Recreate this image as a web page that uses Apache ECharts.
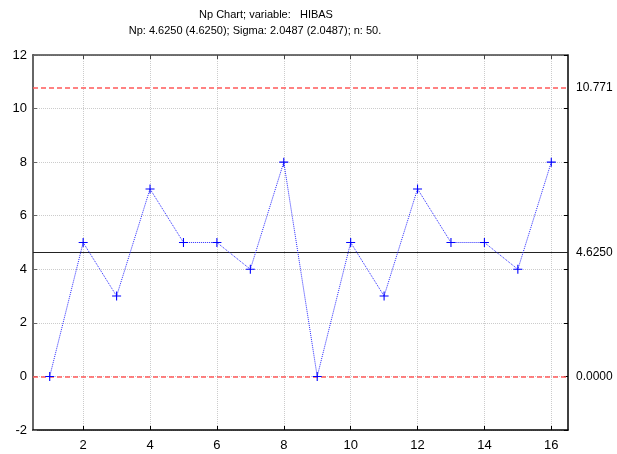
<!DOCTYPE html>
<html>
<head>
<meta charset="utf-8">
<script src="https://cdn.jsdelivr.net/npm/echarts@6/dist/echarts.min.js"></script>
<style>html,body{margin:0;padding:0;background:#fff}#c{width:617px;height:454px}</style>
</head>
<body>
<div id="c"></div>
<script>
const samples = [1,2,3,4,5,6,7,8,9,10,11,12,13,14,15,16];
const values = [0,5,3,7,5,5,4,8,0,5,3,7,5,5,4,8];
const xTickValues = [2,4,6,8,10,12,14,16];
const ucl = 10.771;
const centerLine = 4.625;
const lcl = 0;
const ucLabel = '10.771';
const clLabel = '4.6250';
const lcLabel = '0.0000';
const titleText = 'Np Chart; variable:   HIBAS';
const subtitleText = 'Np: 4.6250 (4.6250); Sigma: 2.0487 (2.0487); n: 50.';

const chart = echarts.init(document.getElementById('c'), null, {renderer:'canvas'});
const font = 'Arial, "Liberation Sans", sans-serif';
const gridLine = {show:true, lineStyle:{color:'#cccccc', type:'dotted', width:1}};
const plus = 'path://M4.4,0h1.2v10h-1.2z M0,4.4h10v1.2h-10z';

const option = {
  animation:false,
  backgroundColor:'#fff',
  title:[
    {text:titleText, left:261, top:4, textAlign:'center', textStyle:{fontFamily:font, fontSize:11, fontWeight:'normal', color:'#000'}},
    {text:subtitleText, left:250, top:20, textAlign:'center', textStyle:{fontFamily:font, fontSize:11, fontWeight:'normal', color:'#000'}}
  ],
  grid:{left:33, right:49, top:55, bottom:24, containLabel:false},
  xAxis:[
    {type:'value', min:0.5, max:16.5, position:'bottom',
     axisLine:{show:true, onZero:false, lineStyle:{color:'#000', width:1.5}},
     axisTick:{show:true, inside:true, length:4, customValues:xTickValues, lineStyle:{color:'#000'}},
     axisLabel:{customValues:xTickValues, fontFamily:font, fontSize:13, color:'#000', margin:9},
     splitLine:gridLine},
    {type:'value', min:0.5, max:16.5, position:'top',
     axisLine:{show:true, onZero:false, lineStyle:{color:'#444', width:1.5}},
     axisTick:{show:true, inside:true, length:4, customValues:xTickValues, lineStyle:{color:'#444'}},
     axisLabel:{show:false},
     splitLine:{show:false}}
  ],
  yAxis:[
    {type:'value', min:-2, max:12, interval:2, position:'left',
     axisLine:{show:true, onZero:false, lineStyle:{color:'#666', width:2}},
     axisTick:{show:true, inside:true, length:4, lineStyle:{color:'#666'}},
     axisLabel:{fontFamily:font, fontSize:13, color:'#000', margin:6},
     splitLine:gridLine},
    {type:'value', min:-2, max:12, interval:2, position:'right',
     axisLine:{show:true, onZero:false, lineStyle:{color:'#000', width:1.5}},
     axisTick:{show:true, inside:true, length:4, lineStyle:{color:'#000'}},
     axisLabel:{show:false},
     splitLine:{show:false}}
  ],
  series:[{
    type:'line',
    xAxisIndex:0, yAxisIndex:0,
    data: samples.map((s,i)=>[s, values[i]]),
    symbol:plus, symbolSize:9,
    itemStyle:{color:'#0000ff'},
    lineStyle:{color:'#2a2aff', type:'dotted', width:1},
    z:5,
    markLine:{
      silent:true, symbol:'none', animation:false,
      label:{show:true, position:'end', distance:8, fontFamily:font, fontSize:12, color:'#000'},
      data:[
        {yAxis:ucl, label:{formatter:ucLabel}, lineStyle:{color:'#ff5a5a', type:[5,3], width:1.5}},
        {yAxis:centerLine, label:{formatter:clLabel}, lineStyle:{color:'#222', type:'solid', width:1.2}},
        {yAxis:lcl, label:{formatter:lcLabel}, lineStyle:{color:'#ff5a5a', type:[5,3], width:1.5}}
      ]
    }
  }]
};
chart.setOption(option);
</script>
</body>
</html>
